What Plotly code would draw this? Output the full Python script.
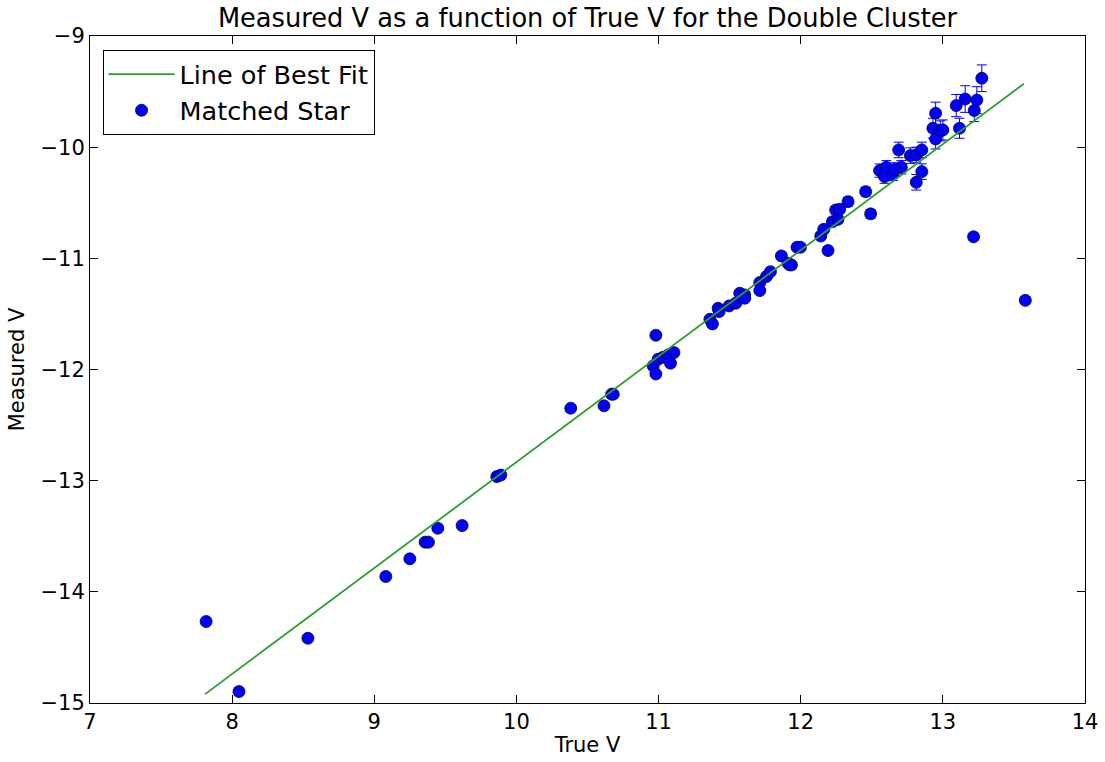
import plotly.graph_objects as go

# Matched stars: true V, measured V, measurement errors
true_v = [7.817, 8.048, 8.533, 9.081, 9.25, 9.358, 9.381, 9.447, 9.618, 9.862, 9.89,
          10.382, 10.616, 10.67, 10.681, 10.981, 10.962, 10.981, 10.997, 11.032, 11.068,
          11.084, 11.108, 11.361, 11.379, 11.419, 11.426, 11.496, 11.543, 11.571, 11.606,
          11.606, 11.712, 11.712, 11.759, 11.787, 11.864, 11.911, 11.935, 11.923, 11.974,
          11.998, 12.141, 12.162, 12.192, 12.223, 12.262, 12.246, 12.274, 12.333, 12.457,
          12.492, 12.555, 12.590, 12.602, 12.649, 12.66, 12.708, 12.689, 12.771, 12.813,
          12.852, 12.813, 12.852, 12.93, 12.949, 12.949, 12.982, 13.0, 13.094, 13.117,
          13.157, 13.221, 13.239, 13.274, 13.216, 13.58]
measured_v = [-14.267, -14.897, -14.417, -13.862, -13.703, -13.553, -13.553, -13.428, -13.404, -12.963, -12.95,
              -12.348, -12.327, -12.222, -12.222, -11.692, -11.968, -12.04, -11.907, -11.89, -11.869,
              -11.943, -11.848, -11.548, -11.59, -11.449, -11.479, -11.428, -11.404, -11.314, -11.329,
              -11.359, -11.218, -11.29, -11.164, -11.12, -10.978, -11.044, -11.059, -11.059, -10.9,
              -10.9, -10.799, -10.739, -10.93, -10.67, -10.649, -10.565, -10.559, -10.49, -10.40,
              -10.6, -10.211, -10.265, -10.181, -10.241, -10.2, -10.181, -10.025, -10.076, -10.07,
              -10.025, -10.316, -10.22, -9.83, -9.695, -9.926, -9.854, -9.845, -9.626, -9.83,
              -9.567, -9.67, -9.576, -9.38, -10.806, -11.378]
err_v = [0.01, 0.01, 0.01, 0.01, 0.01, 0.01, 0.01, 0.01, 0.01, 0.01, 0.01,
         0.01, 0.01, 0.01, 0.01, 0.01, 0.01, 0.01, 0.01, 0.01, 0.01,
         0.01, 0.01, 0.02, 0.02, 0.02, 0.02, 0.02, 0.02, 0.02, 0.02,
         0.02, 0.02, 0.02, 0.02, 0.02, 0.03, 0.03, 0.03, 0.03, 0.03,
         0.03, 0.03, 0.03, 0.03, 0.03, 0.03, 0.03, 0.03, 0.04, 0.04,
         0.04, 0.06, 0.06, 0.06, 0.06, 0.06, 0.06, 0.07, 0.07, 0.07,
         0.07, 0.07, 0.07, 0.09, 0.1, 0.09, 0.09, 0.09, 0.1, 0.09,
         0.12, 0.1, 0.12, 0.12, 0.03, 0.03]
err_true = [0.01] * len(true_v)

# Line of best fit end points
fit_x = [7.81, 13.57]
fit_y = [-14.92, -9.43]

FONT = "DejaVu Sans"

fig = go.Figure()
fig.add_trace(go.Scatter(
    x=true_v, y=measured_v, mode="markers", name="Matched Star",
    marker=dict(color="#0000ff", size=12, line=dict(color="#000040", width=0.8)),
    error_y=dict(type="data", array=err_v, color="#0000ff", thickness=1, width=5),
    error_x=dict(type="data", array=err_true, color="#0000ff", thickness=1, width=0),
))
fig.add_trace(go.Scatter(
    x=fit_x, y=fit_y, mode="lines", name="Line of Best Fit",
    line=dict(color="#2ca02c", width=1.8),
))

axis_common = dict(
    showgrid=False, zeroline=False, showline=True, linecolor="black", linewidth=1,
    mirror="allticks", ticks="inside", ticklen=8, tickcolor="black", tickwidth=1,
    tickfont=dict(family=FONT, size=21, color="black"), automargin=False,
)
fig.update_layout(
    width=1105, height=762,
    margin=dict(l=90, r=20, t=36, b=59),
    paper_bgcolor="white", plot_bgcolor="white",
    font=dict(family=FONT, color="black"),
    title=dict(text="Measured V as a function of True V for the Double Cluster",
               x=0.5, xref="paper", y=0.976, yanchor="middle",
               font=dict(family=FONT, size=25.7, color="black")),
    xaxis=dict(range=[7, 14], tickvals=[7, 8, 9, 10, 11, 12, 13, 14],
               title=dict(text="True V", font=dict(family=FONT, size=21), standoff=4),
               **axis_common),
    yaxis=dict(range=[-15, -9], tickvals=[-15, -14, -13, -12, -11, -10, -9],
               title=dict(text="Measured V", font=dict(family=FONT, size=21), standoff=10),
               **axis_common),
    legend=dict(x=0.0126, y=0.979, xanchor="left", yanchor="top",
                bordercolor="black", borderwidth=1, bgcolor="white",
                traceorder="reversed", itemwidth=66,
                font=dict(family=FONT, size=25.5, color="black")),
    showlegend=True,
)

fig.write_html("out.html")
